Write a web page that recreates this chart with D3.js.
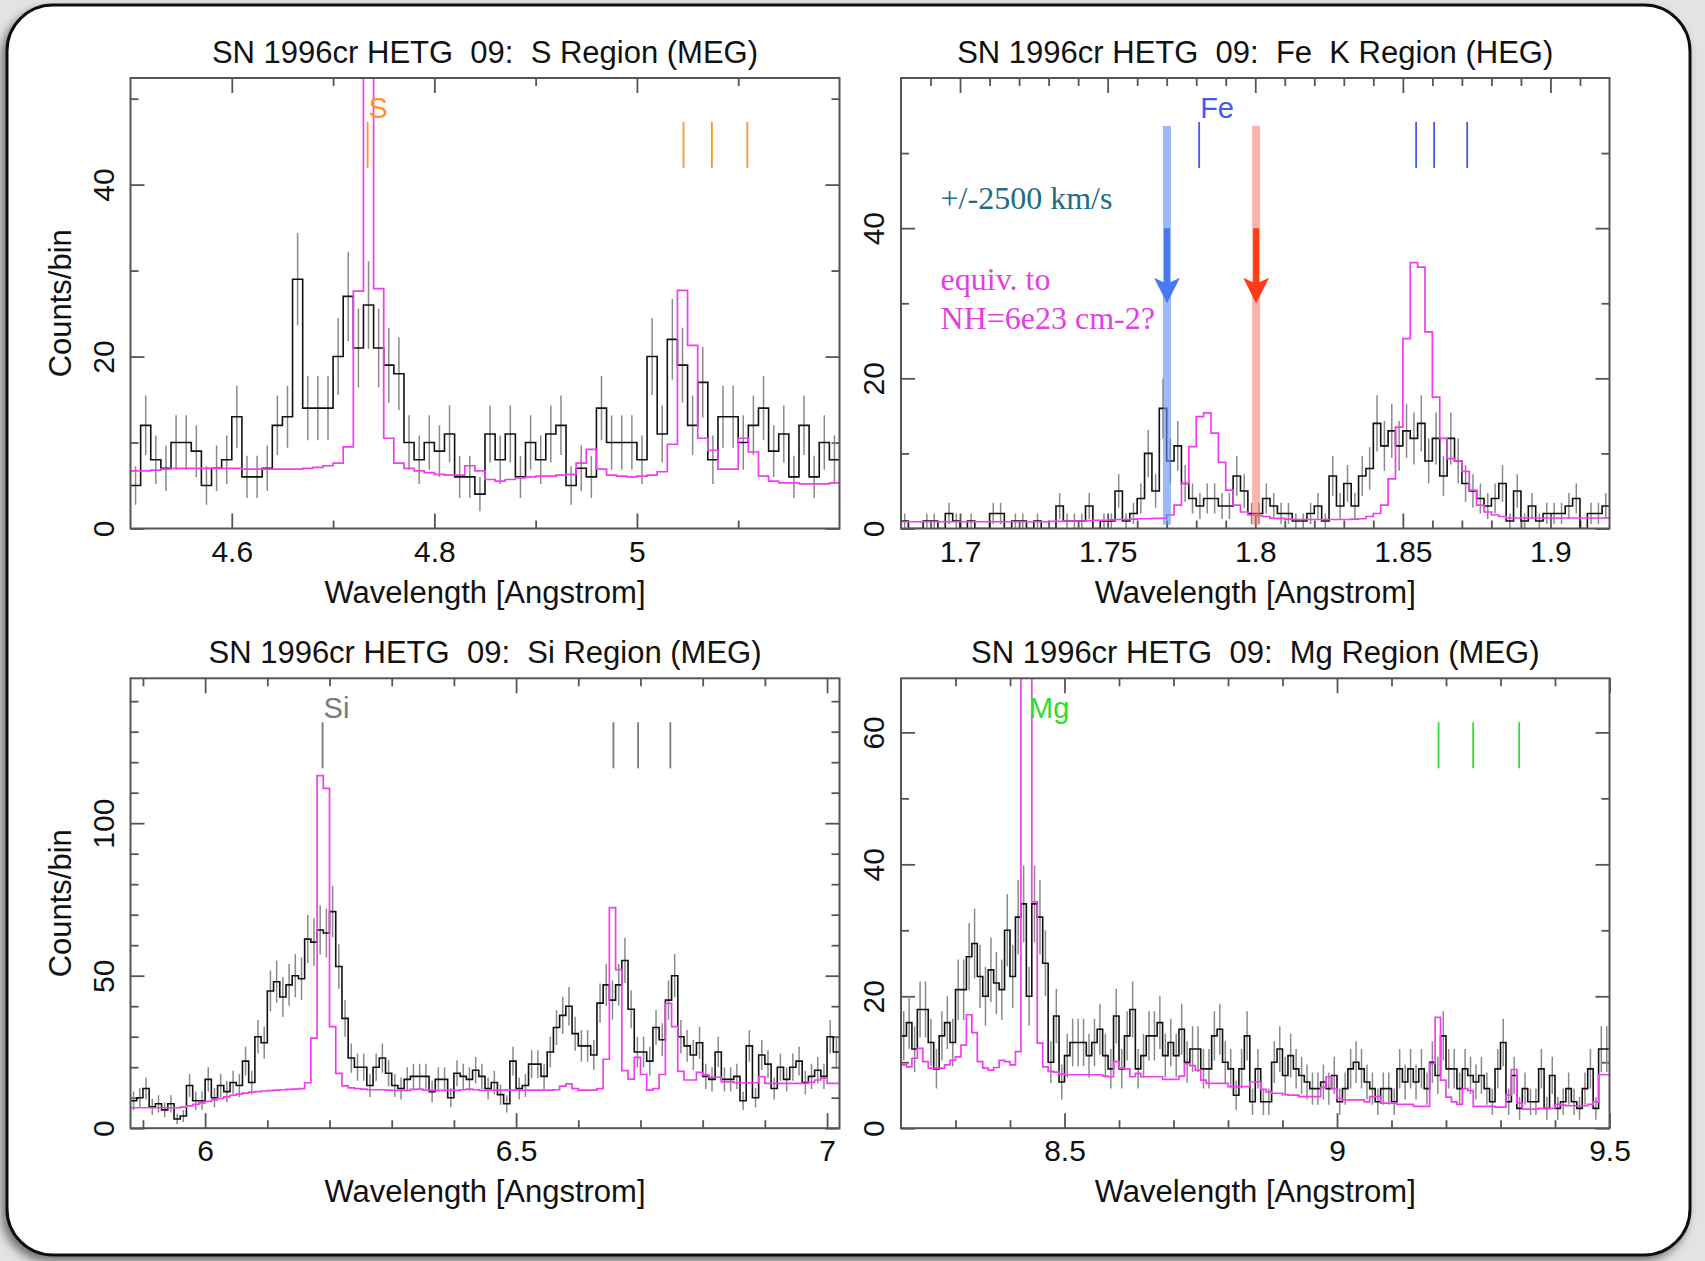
<!DOCTYPE html>
<html>
<head>
<meta charset="utf-8">
<script src="https://cdn.jsdelivr.net/npm/d3@7"></script>
<style>
html, body { margin: 0; padding: 0; background: #e3e3e3; }
svg { display: block; }
text { white-space: pre; }
</style>
</head>
<body>
<script>
// ---- data: counts per bin (black) and model (magenta) ----
// S region, MEG, bins of 0.01 A from 4.5
const sStart = 4.5, sWidth = 0.01
const sCounts = [5, 12, 8, 7, 10, 10, 9, 5, 7, 8,
  13, 6, 6, 7, 12, 13, 29, 14, 14, 14,
  20, 27, 21, 26, 21, 19, 18, 10, 8, 10,
  9, 11, 6, 6, 4, 11, 8, 11, 6, 10,
  8, 11, 12, 5, 7, 6, 14, 10, 10, 10,
  8, 20, 11, 22, 19, 12, 17, 8, 13, 13,
  10, 12, 14, 9, 11, 6, 12, 6, 10, 8]
const sModel = [6.7, 6.7, 6.8, 6.9, 7.0, 7.0, 7.0, 7.0, 7.0, 7.0,
  7.0, 6.9, 6.9, 6.9, 6.9, 6.9, 6.9, 7.0, 7.1, 7.3,
  7.6, 9.5, 27.6, 90, 27.9, 10.5, 7.6, 7.0, 6.7, 6.5,
  6.3, 6.2, 6.2, 7.3, 6.7, 5.7, 5.5, 5.7, 5.9, 6.0,
  6.1, 6.1, 6.2, 6.3, 7.6, 9.2, 6.9, 6.2, 6.1, 6.0,
  6.1, 6.2, 6.6, 9.8, 27.7, 21.3, 10.5, 9.1, 6.9, 6.9,
  10.5, 8.9, 6.1, 5.5, 5.3, 5.3, 5.2, 5.2, 5.2, 5.3]
const sLines = [4.7341, 5.046, 5.074, 5.109]
const sXMajor = [4.6, 4.8, 5.0]
const sXMinor = [4.7, 4.9, 5.1]
const sYMajor = [0, 20, 40]
const sYMinor = [10, 30, 50]

// Fe K region, HEG, bins of 0.0025 A from 1.68
const feStart = 1.68, feWidth = 0.0025
const feCounts = [1, 0, 0, 1, 1, 0, 2, 1, 0, 1,
  0, 0, 2, 2, 0, 1, 1, 0, 1, 0,
  0, 3, 1, 1, 1, 3, 0, 1, 1, 5,
  1, 2, 4, 10, 5, 16, 9, 11, 6, 4,
  3, 4, 4, 3, 3, 7, 5, 2, 2, 4,
  3, 2, 2, 1, 1, 2, 3, 1, 7, 3,
  6, 3, 7, 8, 14, 11, 13, 11, 13, 12,
  14, 9, 12, 7, 12, 9, 6, 5, 4, 3,
  4, 6, 1, 5, 1, 3, 1, 2, 2, 2,
  3, 4, 0, 2, 2, 3]
const feModel = [0.9, 0.9, 0.9, 0.9, 0.9, 0.9, 0.9, 0.9, 0.9, 0.9,
  0.9, 0.9, 0.9, 0.9, 0.9, 0.9, 0.9, 0.9, 0.9, 0.9,
  0.95, 0.95, 1.0, 1.0, 1.0, 1.05, 1.1, 1.1, 1.15, 1.2,
  1.2, 1.25, 1.3, 1.3, 1.35, 1.35, 1.8, 3.1, 6.0, 10.9,
  14.9, 15.4, 12.7, 8.8, 5.1, 3.1, 2.2, 1.8, 1.7, 1.6,
  1.35, 1.35, 1.25, 1.2, 1.2, 1.2, 1.2, 1.2, 1.2, 1.2,
  1.2, 1.25, 1.3, 1.6, 2.0, 3.1, 6.6, 13.5, 25.3, 35.4,
  34.8, 26.2, 17.5, 12.0, 9.3, 9.0, 7.6, 5.1, 3.1, 2.2,
  1.8, 1.6, 1.4, 1.4, 1.4, 1.4, 1.4, 1.4, 1.4, 1.4,
  1.4, 1.4, 1.4, 1.4, 1.4, 1.4]
const feLines = [1.781, 1.8545, 1.8606, 1.8718]
const feXMajor = [1.7, 1.75, 1.8, 1.85, 1.9]
const feXMinor = [1.69, 1.71, 1.72, 1.73, 1.74, 1.76, 1.77, 1.78, 1.79, 1.81, 1.82, 1.83, 1.84, 1.86, 1.87, 1.88, 1.89, 1.91]
const feYMajor = [0, 20, 40]
const feYMinor = [10, 30, 50]
// shifted positions of the Fe line (+/-2500 km/s)
const feShift = [1.7701, 1.8003]

// Si region, MEG, bins of 0.01 A from 5.88
const siStart = 5.88, siWidth = 0.01
const siCounts = [9, 10, 13, 7, 8, 6, 8, 3, 4, 14,
  9, 9, 16, 10, 14, 12, 15, 14, 22, 15,
  30, 28, 45, 48, 43, 47, 50, 49, 62, 61,
  65, 64, 71, 53, 36, 23, 20, 20, 14, 20,
  23, 18, 14, 13, 16, 17, 17, 17, 12, 16,
  16, 10, 18, 17, 16, 19, 17, 13, 15, 11,
  8, 22, 13, 14, 21, 21, 17, 25, 33, 37,
  40, 31, 27, 27, 24, 41, 47, 42, 47, 55,
  39, 25, 25, 22, 33, 29, 42, 50, 30, 27,
  24, 28, 17, 16, 25, 16, 16, 17, 9, 27,
  10, 24, 21, 13, 20, 16, 20, 22, 15, 17,
  19, 17, 30, 25]
const siModel = [6.7, 6.7, 6.7, 6.7, 6.7, 6.7, 6.7, 6.7, 6.9, 7.3,
  7.8, 8.3, 8.8, 9.3, 9.8, 10.3, 10.8, 11.2, 11.5, 11.8,
  12.0, 12.2, 12.3, 12.5, 12.6, 12.7, 12.8, 13.0, 14.9, 29.5,
  115.6, 111.4, 33.3, 18.0, 13.9, 13.2, 13.0, 12.8, 12.6, 12.6,
  12.6, 12.5, 12.4, 12.4, 12.4, 12.7, 12.8, 12.5, 12.4, 12.4,
  12.4, 12.4, 12.4, 12.6, 12.8, 12.6, 12.4, 12.5, 12.5, 12.5,
  12.5, 12.5, 12.5, 12.5, 12.5, 12.5, 12.5, 12.5, 12.6, 13.8,
  14.5, 13.0, 12.5, 12.5, 12.5, 13.0, 22.6, 72.3, 52.0, 18.9,
  16.1, 23.2, 17.6, 12.5, 13.0, 17.6, 40.9, 33.3, 18.6, 15.8,
  15.8, 18.3, 17.5, 16.7, 16.7, 15.2, 15.2, 14.9, 14.9, 14.9,
  14.9, 16.9, 14.7, 14.7, 14.7, 14.7, 14.7, 14.7, 14.7, 15.0,
  15.8, 16.4, 14.7, 14.7]
const siLines = [6.1888, 6.6565, 6.6962, 6.748]
const siXMajor = [6.0, 6.5, 7.0]
const siXMinor = [5.9, 6.1, 6.2, 6.3, 6.4, 6.6, 6.7, 6.8, 6.9]
const siYMajor = [0, 50, 100]
const siYMinor = [10, 20, 30, 40, 60, 70, 80, 90, 110, 120, 130, 140]

// Mg region, MEG, bins of 0.01 A from 8.2
const mgStart = 8.2, mgWidth = 0.01
const mgCounts = [14, 16, 12, 18, 18, 13, 9, 14, 16, 13,
  21, 21, 26, 28, 23, 20, 24, 22, 21, 30,
  23, 32, 34, 20, 34, 32, 25, 10, 17, 7,
  11, 13, 13, 13, 11, 13, 15, 11, 9, 17,
  9, 14, 18, 9, 11, 14, 14, 16, 11, 13,
  11, 15, 10, 12, 12, 9, 9, 14, 15, 10,
  9, 5, 9, 14, 4, 9, 4, 4, 10, 12,
  8, 11, 9, 8, 7, 6, 6, 7, 6, 8,
  4, 6, 9, 10, 9, 7, 6, 4, 6, 6,
  4, 9, 7, 9, 7, 9, 6, 10, 8, 14,
  9, 9, 6, 9, 8, 7, 8, 6, 4, 9,
  13, 4, 8, 3, 6, 4, 4, 9, 3, 8,
  3, 4, 6, 4, 3, 6, 9, 3, 12, 12]
const mgModel = [9.6, 9.3, 10.6, 12.1, 10.1, 9.1, 9.1, 9.1, 9.6, 10.3,
  10.8, 12.6, 17.2, 14.5, 10.1, 9.1, 8.8, 9.2, 10.3, 10.1,
  9.6, 11.6, 120, 120, 34.3, 12.9, 9.3, 8.6, 8.5, 8.2,
  8.1, 8.1, 8.1, 8.1, 8.1, 8.1, 8.1, 7.9, 7.8, 10.1,
  9.1, 9.0, 7.8, 8.3, 7.8, 7.8, 7.8, 7.8, 7.4, 7.4,
  7.4, 7.9, 9.8, 9.5, 8.8, 7.3, 6.8, 6.8, 6.8, 6.8,
  6.3, 6.3, 6.3, 6.3, 7.0, 7.0, 5.9, 5.5, 5.3, 5.3,
  5.1, 5.0, 5.0, 4.8, 4.8, 4.8, 4.8, 6.2, 7.8, 6.0,
  4.5, 4.3, 4.3, 4.3, 4.3, 4.0, 4.8, 4.8, 3.8, 3.8,
  3.8, 3.6, 3.6, 3.6, 3.3, 3.3, 3.3, 9.8, 16.8, 7.3,
  4.7, 4.0, 3.6, 6.0, 5.7, 3.3, 3.3, 3.3, 3.3, 3.2,
  3.2, 5.0, 8.9, 3.8, 2.9, 2.9, 2.9, 3.0, 3.0, 3.0,
  3.6, 3.5, 3.4, 3.4, 3.4, 3.4, 3.6, 4.0, 8.1, 8.1]
const mgLines = [9.1864, 9.2499, 9.3343]
const mgXMajor = [8.5, 9.0, 9.5]
const mgXMinor = [8.3, 8.4, 8.6, 8.7, 8.8, 8.9, 9.1, 9.2, 9.3, 9.4]
const mgYMajor = [0, 20, 40, 60]
const mgYMinor = [10, 30, 50]

// ---- layout ----
const W = 1705, H = 1261
const boxTop = [78, 528.5], boxBottom = [678.3, 1128.2]
const boxLeft = [130.5, 839.5], boxRight = [901, 1609.5]
const sans = '"Liberation Sans", Arial, Helvetica, sans-serif'
const serif = '"Liberation Serif", "Times New Roman", serif'

const panels = [
  { title: 'SN 1996cr HETG  09:  S Region (MEG)', xr: boxLeft, yr: boxTop,
    xDomain: [4.5, 5.2], yDomain: [0, 52.4], start: sStart, width: sWidth,
    counts: sCounts, model: sModel, lines: sLines, label: 'S', labelAt: sLines[0], col: '#ff9422',
    xMajor: sXMajor, xMinor: sXMinor, yMajor: sYMajor, yMinor: sYMinor, yTitle: true },
  { title: 'SN 1996cr HETG  09:  Fe  K Region (HEG)', xr: boxRight, yr: boxTop,
    xDomain: [1.68, 1.92], yDomain: [0, 60], start: feStart, width: feWidth,
    counts: feCounts, model: feModel, lines: feLines, label: 'Fe', labelAt: feLines[0], col: '#3f5cf2',
    xMajor: feXMajor, xMinor: feXMinor, yMajor: feYMajor, yMinor: feYMinor, yTitle: false, fe: true },
  { title: 'SN 1996cr HETG  09:  Si Region (MEG)', xr: boxLeft, yr: boxBottom,
    xDomain: [5.88, 7.02], yDomain: [0, 147.5], start: siStart, width: siWidth,
    counts: siCounts, model: siModel, lines: siLines, label: 'Si', labelAt: siLines[0], col: '#7a7a7a',
    xMajor: siXMajor, xMinor: siXMinor, yMajor: siYMajor, yMinor: siYMinor, yTitle: true },
  { title: 'SN 1996cr HETG  09:  Mg Region (MEG)', xr: boxRight, yr: boxBottom,
    xDomain: [8.2, 9.5], yDomain: [0, 68.2], start: mgStart, width: mgWidth,
    counts: mgCounts, model: mgModel, lines: mgLines, label: 'Mg', labelAt: 8.433, col: '#2fdc2f',
    xMajor: mgXMajor, xMinor: mgXMinor, yMajor: mgYMajor, yMinor: mgYMinor, yTitle: false }
]

const svg = d3.select(document.body).append('svg')
  .attr('width', W)
  .attr('height', H)
  .attr('xmlns', 'http://www.w3.org/2000/svg')
  .style('font-family', sans)

const defs = svg.append('defs')
const shadow = defs.append('filter').attr('id', 'shadow')
  .attr('x', -0.05).attr('y', -0.05).attr('width', 1.1).attr('height', 1.1)
shadow.append('feDropShadow')
  .attr('dx', -4).attr('dy', 5).attr('stdDeviation', 5)
  .attr('flood-color', '#000').attr('flood-opacity', 0.5)

// white card with rounded corners
svg.append('rect')
  .attr('x', 7).attr('y', 5).attr('width', 1683).attr('height', 1250).attr('rx', 46)
  .attr('fill', 'white').attr('stroke', '#111').attr('stroke-width', 3)
  .attr('filter', 'url(#shadow)')

const axisCol = '#555'
const fmt = d3.format('~g')

function styleAxis(g) {
  g.select('.domain').remove()
  g.selectAll('line').attr('stroke', axisCol).attr('stroke-width', 1.8)
  g.selectAll('text').attr('fill', '#111').attr('font-size', 30).attr('font-family', sans)
}

panels.forEach((p, i) => {
  const [l, r] = p.xr
  const [t, b] = p.yr
  const x = d3.scaleLinear(p.xDomain, [l, r])
  const y = d3.scaleLinear(p.yDomain, [b, t])
  const g = svg.append('g')

  const clipId = 'clip' + i
  defs.append('clipPath').attr('id', clipId)
    .append('rect').attr('x', l).attr('y', t).attr('width', r - l).attr('height', b - t)

  // axes: major + minor ticks on all four sides, pointing inward
  g.append('g').attr('transform', `translate(0,${b})`)
    .call(d3.axisBottom(x).tickValues(p.xMajor).tickSize(-15).tickSizeOuter(0).tickPadding(12).tickFormat(fmt))
    .call(styleAxis)
  g.append('g').attr('transform', `translate(0,${b})`)
    .call(d3.axisBottom(x).tickValues(p.xMinor).tickSize(-8).tickSizeOuter(0).tickFormat(''))
    .call(styleAxis)
  g.append('g').attr('transform', `translate(0,${t})`)
    .call(d3.axisTop(x).tickValues(p.xMajor).tickSize(-15).tickSizeOuter(0).tickFormat(''))
    .call(styleAxis)
  g.append('g').attr('transform', `translate(0,${t})`)
    .call(d3.axisTop(x).tickValues(p.xMinor).tickSize(-8).tickSizeOuter(0).tickFormat(''))
    .call(styleAxis)
  const yl = g.append('g').attr('transform', `translate(${l},0)`)
    .call(d3.axisLeft(y).tickValues(p.yMajor).tickSize(-14).tickSizeOuter(0).tickFormat(fmt))
    .call(styleAxis)
  yl.selectAll('text')
    .attr('x', 0).attr('y', -17).attr('dy', 0)
    .attr('text-anchor', 'middle')
    .attr('transform', 'rotate(-90)')
  g.append('g').attr('transform', `translate(${l},0)`)
    .call(d3.axisLeft(y).tickValues(p.yMinor).tickSize(-8).tickSizeOuter(0).tickFormat(''))
    .call(styleAxis)
  g.append('g').attr('transform', `translate(${r},0)`)
    .call(d3.axisRight(y).tickValues(p.yMajor).tickSize(-14).tickSizeOuter(0).tickFormat(''))
    .call(styleAxis)
  g.append('g').attr('transform', `translate(${r},0)`)
    .call(d3.axisRight(y).tickValues(p.yMinor).tickSize(-8).tickSizeOuter(0).tickFormat(''))
    .call(styleAxis)

  // titles and axis labels
  g.append('text').attr('x', (l + r) / 2).attr('y', t - 15)
    .attr('text-anchor', 'middle').attr('font-size', 31).attr('fill', '#111')
    .attr('xml:space', 'preserve')
    .text(p.title)
  g.append('text').attr('x', (l + r) / 2).attr('y', b + 74)
    .attr('text-anchor', 'middle').attr('font-size', 31).attr('fill', '#111')
    .text('Wavelength [Angstrom]')
  if (p.yTitle) {
    g.append('text')
      .attr('transform', `translate(${l - 60},${(t + b) / 2}) rotate(-90)`)
      .attr('text-anchor', 'middle').attr('font-size', 31).attr('fill', '#111')
      .text('Counts/bin')
  }

  const plot = g.append('g').attr('clip-path', `url(#${clipId})`)

  // line markers
  plot.selectAll('line.mark').data(p.lines).join('line')
    .attr('class', 'mark')
    .attr('x1', d => x(d)).attr('x2', d => x(d))
    .attr('y1', t + 44).attr('y2', t + 90)
    .attr('stroke', p.col).attr('stroke-width', 1.8)
  g.append('text').attr('x', x(p.labelAt) + 1).attr('y', t + 40)
    .attr('font-size', 29).attr('fill', p.col)
    .text(p.label)

  // error bars (Poisson)
  const n = p.counts.length
  plot.selectAll('line.err').data(p.counts).join('line')
    .attr('class', 'err')
    .attr('x1', (d, k) => x(p.start + (k + 0.5) * p.width))
    .attr('x2', (d, k) => x(p.start + (k + 0.5) * p.width))
    .attr('y1', d => y(d - Math.sqrt(d)))
    .attr('y2', d => y(d + Math.sqrt(d)))
    .attr('stroke', '#8a8a8a').attr('stroke-width', 1.5)

  const step = d3.line()
    .x(d => x(d[0])).y(d => y(d[1]))
    .curve(d3.curveStepAfter)
  const pts = arr => {
    const a = arr.map((v, k) => [p.start + k * p.width, v])
    a.push([p.start + n * p.width, arr[n - 1]])
    return a
  }
  plot.append('path').attr('d', step(pts(p.counts)))
    .attr('fill', 'none').attr('stroke', '#111').attr('stroke-width', 1.6)
  plot.append('path').attr('d', step(pts(p.model)))
    .attr('fill', 'none').attr('stroke', '#f23cf2').attr('stroke-width', 1.7)

  if (p.fe) {
    const cols = [['rgba(90,145,245,0.62)', '#4a78ee'], ['rgba(242,120,105,0.55)', '#ff3a16']]
    feShift.forEach((w, j) => {
      const cx = x(w)
      plot.append('line')
        .attr('x1', cx).attr('x2', cx).attr('y1', y(53.6)).attr('y2', y(0.5))
        .attr('stroke', cols[j][0]).attr('stroke-width', 8)
      plot.append('line')
        .attr('x1', cx).attr('x2', cx).attr('y1', y(40)).attr('y2', y(32))
        .attr('stroke', cols[j][1]).attr('stroke-width', 6)
      const tip = y(30), base = y(33.4)
      plot.append('path')
        .attr('d', `M${cx - 13},${base} L${cx},${base + 6} L${cx + 13},${base} L${cx},${tip} Z`)
        .attr('fill', cols[j][1])
    })
    g.append('text').attr('x', x(1.6934)).attr('y', y(42.6))
      .style('font-family', serif).attr('font-size', 32).attr('fill', '#1d6c88')
      .text('+/-2500 km/s')
    g.append('text').attr('x', x(1.6934)).attr('y', y(31.8))
      .style('font-family', serif).attr('font-size', 32).attr('fill', '#e23fe2')
      .text('equiv. to')
    g.append('text').attr('x', x(1.6934)).attr('y', y(26.6))
      .style('font-family', serif).attr('font-size', 32).attr('fill', '#e23fe2')
      .text('NH=6e23 cm-2?')
  }

  // plot frame
  g.append('rect').attr('x', l).attr('y', t).attr('width', r - l).attr('height', b - t)
    .attr('fill', 'none').attr('stroke', axisCol).attr('stroke-width', 2)
})
</script>
</body>
</html>
